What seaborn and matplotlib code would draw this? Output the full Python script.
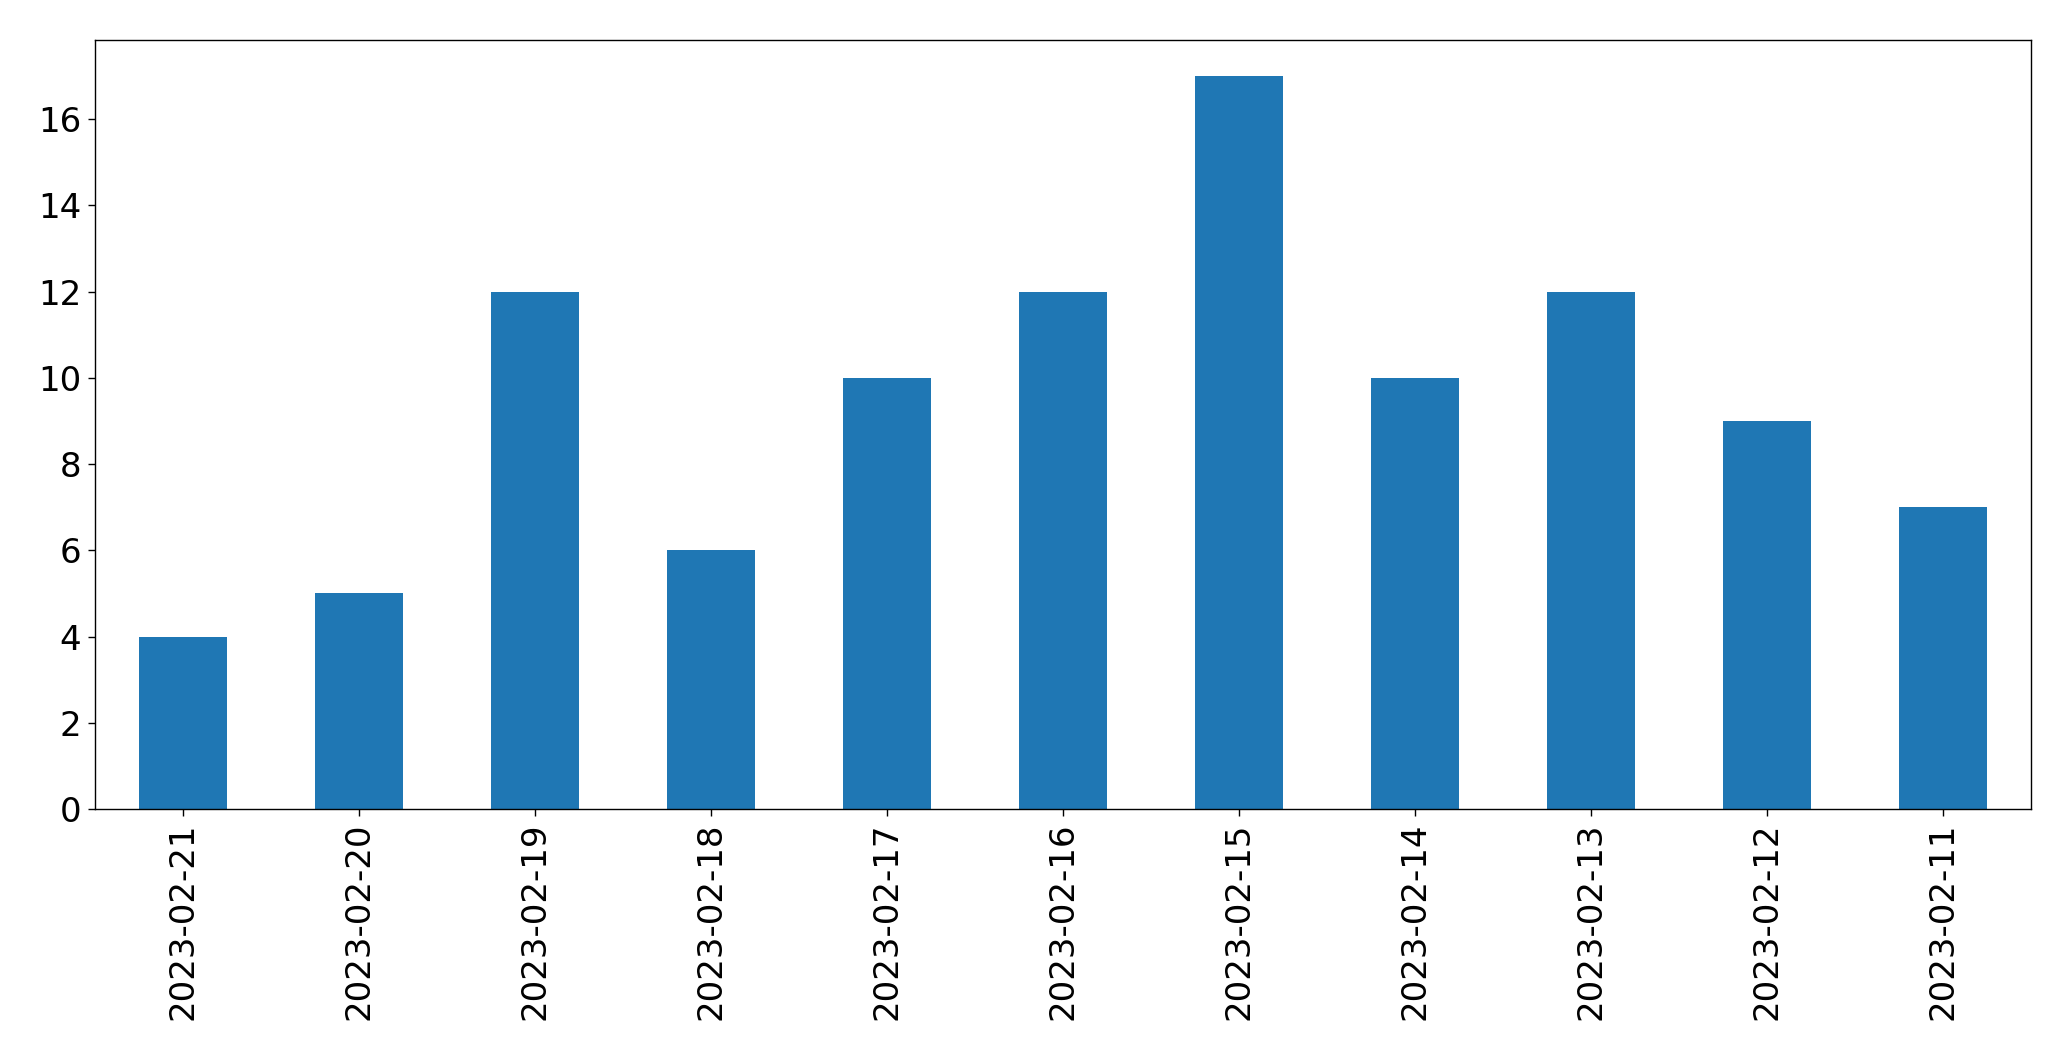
import matplotlib
matplotlib.use("Agg")
import matplotlib.pyplot as plt
import seaborn as sns
import pandas as pd

dates = ["2023-02-21", "2023-02-20", "2023-02-19", "2023-02-18", "2023-02-17",
         "2023-02-16", "2023-02-15", "2023-02-14", "2023-02-13", "2023-02-12",
         "2023-02-11"]
counts = [4, 5, 12, 6, 10, 12, 17, 10, 12, 9, 7]

df = pd.DataFrame({"date": dates, "count": counts})

W, H = 2071, 1061
fig = plt.figure(figsize=(W / 100, H / 100), dpi=100)
ax = fig.add_axes([94.5 / W, 1 - 809 / H, (2031 - 94.5) / W, (809 - 39.5) / H])

sns.barplot(data=df, x="date", y="count", order=dates, color="#1f77b4",
            saturation=1, width=0.5, linewidth=0, ax=ax)

ax.set_xlim(-0.5, len(dates) - 0.5)
ax.set_ylim(0, max(counts) * 1.05)
ax.set_yticks(range(0, 17, 2))
ax.set_xlabel("")
ax.set_ylabel("")
ax.tick_params(axis="both", labelsize=24.5, length=5, width=1, pad=4.5)
ax.tick_params(axis="x", labelrotation=90)
for s in ax.spines.values():
    s.set_linewidth(1)

fig.savefig("out.png", dpi=100)
